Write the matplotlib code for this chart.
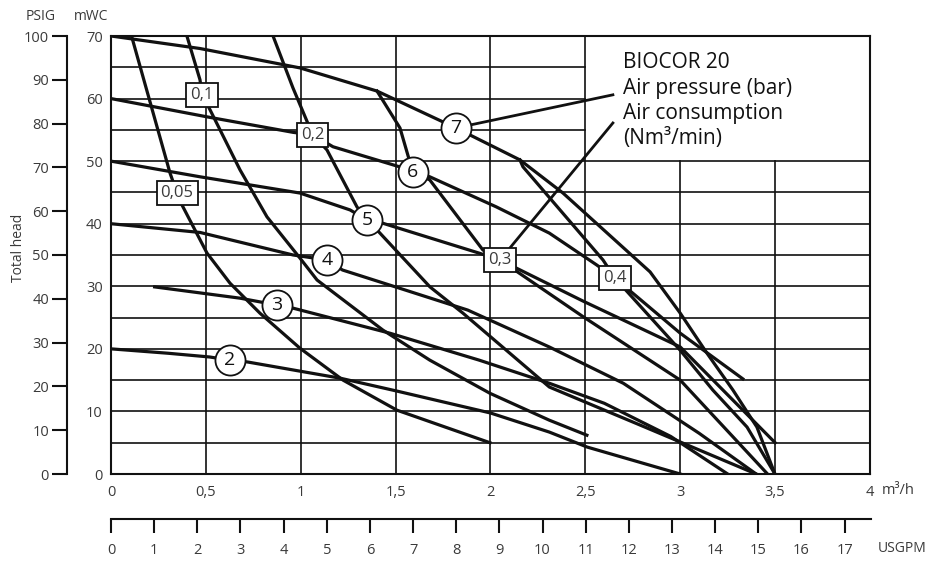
import matplotlib
matplotlib.use('Agg')
import matplotlib.pyplot as plt

plt.rcParams['font.family'] = ['Open Sans', 'DejaVu Sans']

# ---- data: flow (m3/h) vs total head (mWC) ----
# pressure curves (bar)
p2_x = [0, 0.30, 0.52, 0.627, 0.72, 1.21, 1.50, 2.00, 2.31, 2.51, 3.00]
p2_y = [20, 19.3, 18.7, 18.2, 17.9, 15.3, 13.3, 9.75, 6.7, 4.3, 0]
p3_x = [0.23, 0.68, 0.875, 0.96, 1.47, 1.94, 2.31, 2.60, 2.95, 3.25]
p3_y = [29.9, 28.1, 27.0, 26.5, 22.5, 18.2, 14.5, 11.3, 6.0, 0]
p4_x = [0, 0.47, 0.96, 1.138, 1.22, 1.52, 1.88, 2.31, 2.70, 3.10, 3.40]
p4_y = [40, 38.6, 35.0, 34.2, 32.6, 29.7, 26.2, 20.3, 14.5, 6.5, 0]
p5_x = [0, 0.469, 0.996, 1.26, 1.349, 1.43, 1.94, 2.05, 2.49, 3.00, 3.50]
p5_y = [50, 47.5, 44.9, 42.2, 40.6, 40.1, 35.3, 34.2, 27.6, 20.3, 5]
p6_x = [0, 0.52, 0.96, 1.063, 1.17, 1.52, 1.59, 1.68, 2.03, 2.31, 2.56, 2.656, 3.00, 3.33]
p6_y = [60, 57.0, 54.6, 54.2, 52.3, 49.1, 48.3, 47.5, 42.7, 38.5, 33.4, 31.3, 22.5, 15.2]
p7_x = [0, 0.469, 0.996, 1.402, 1.818, 2.155, 2.382, 2.841, 3.00, 3.141, 3.278, 3.404, 3.499]
p7_y = [70, 68.0, 64.9, 61.2, 55.3, 50.2, 44.9, 32.3, 25.7, 19.3, 13.4, 7.5, 0]

# air consumption curves (Nm3/min)
c005_x = [0.111, 0.311, 0.348, 0.374, 0.506, 0.627, 0.785, 0.996, 1.223, 1.507, 1.997]
c005_y = [69.7, 48.1, 44.9, 43.0, 35.3, 30.5, 25.7, 20.1, 15.0, 10.2, 5.0]
c01_x = [0.40, 0.469, 0.48, 0.522, 0.68, 0.822, 0.996, 1.086, 1.433, 1.68, 1.997, 2.31, 2.508]
c01_y = [70, 63.0, 60.6, 58.2, 48.6, 41.1, 34.5, 31.0, 23.0, 18.2, 12.9, 8.6, 6.2]
c02_x = [0.854, 0.959, 1.063, 1.138, 1.296, 1.349, 1.402, 1.681, 1.855, 2.31, 2.79, 3.40]
c02_y = [70, 61.7, 54.2, 51.8, 42.7, 40.6, 39.0, 29.9, 25.7, 13.9, 7.8, 0]
c03_x = [1.402, 1.523, 1.59, 1.68, 1.96, 2.05, 2.49, 3.00, 3.46]
c03_y = [61.2, 55.3, 48.3, 47.0, 35.8, 34.2, 25.1, 15.0, 0]
c04_x = [2.155, 2.171, 2.593, 2.656, 2.999, 3.172, 3.352, 3.499]
c04_y = [50.2, 49.1, 34.2, 31.3, 19.8, 13.4, 7.5, 0]

pressure_curves = [(p2_x, p2_y), (p3_x, p3_y), (p4_x, p4_y),
                   (p5_x, p5_y), (p6_x, p6_y), (p7_x, p7_y)]
consumption_curves = [(c005_x, c005_y), (c01_x, c01_y), (c02_x, c02_y),
                      (c03_x, c03_y), (c04_x, c04_y)]

circle_labels = ['2', '3', '4', '5', '6', '7']
circle_x = [0.627, 0.875, 1.138, 1.349, 1.59, 1.818]
circle_y = [18.2, 27.0, 34.2, 40.6, 48.3, 55.3]

box_labels = ['0,05', '0,1', '0,2', '0,3', '0,4']
box_x = [0.348, 0.48, 1.063, 2.05, 2.656]
box_y = [44.9, 60.6, 54.2, 34.2, 31.3]

x_ticks = [0, 0.5, 1, 1.5, 2, 2.5, 3, 3.5, 4]
x_tick_labels = ['0', '0,5', '1', '1,5', '2', '2,5', '3', '3,5', '4']
y_ticks = [0, 10, 20, 30, 40, 50, 60, 70]
psig_ticks = list(range(0, 101, 10))
usgpm_ticks = list(range(0, 18))
usgpm_per_m3h = 4.403

legend_lines = ['BIOCOR 20', 'Air pressure (bar)', 'Air consumption', '(Nm³/min)']
legend_y = [64.9, 60.8, 56.8, 52.7]

# ---- figure ----
W, H = 929, 561
fig = plt.figure(figsize=(W / 100, H / 100), dpi=100)
L, R, T, B = 111, 870, 36, 474
ax = fig.add_axes([L / W, 1 - B / H, (R - L) / W, (B - T) / H])
ax.set_xlim(0, 4)
ax.set_ylim(0, 70)
ink = '#111111'
txt = '#3a3a3a'

# grid (leave the legend panel empty)
for yv in range(5, 70, 5):
    ax.plot([0, 2.5 if yv > 50 else 4], [yv, yv], color=ink, lw=1.2, zorder=1)
for xv in [0.5, 1, 1.5, 2, 2.5, 3, 3.5]:
    ax.plot([xv, xv], [0, 50 if xv > 2.5 else 70], color=ink, lw=1.2, zorder=1)
for s in ax.spines.values():
    s.set_linewidth(1.5)
    s.set_color(ink)

for cx, cy in pressure_curves + consumption_curves:
    ax.plot(cx, cy, color=ink, lw=2.3, solid_joinstyle='round', zorder=3)

# leader lines to legend text
ax.plot([circle_x[5], 2.645], [circle_y[5], 60.6], color=ink, lw=2.0, zorder=3)
ax.plot([box_x[3], 2.645], [box_y[3], 56.1], color=ink, lw=2.0, zorder=3)

ax.scatter(circle_x, circle_y, s=470, facecolor='white', edgecolor=ink,
           linewidth=1.3, zorder=5)
for lab, cx, cy in zip(circle_labels, circle_x, circle_y):
    ax.text(cx, cy, lab, ha='center', va='center', fontsize=14, color=ink, zorder=6)
for lab, bx, by in zip(box_labels, box_x, box_y):
    ax.text(bx, by, lab, ha='center', va='center', fontsize=12, color=txt, zorder=6,
            bbox=dict(boxstyle='square,pad=0.24', fc='white', ec=ink, lw=1.3))

for line, ly in zip(legend_lines, legend_y):
    ax.text(2.7, ly, line, ha='left', va='baseline', fontsize=15,
            color=ink, zorder=6)

ax.set_xticks(x_ticks)
ax.set_xticklabels(x_tick_labels)
ax.set_yticks(y_ticks)
ax.tick_params(axis='both', length=0, labelsize=10.5, labelcolor=txt)
ax.tick_params(axis='x', pad=8)
ax.tick_params(axis='y', pad=6)
fig.text(882 / W, 1 - 490 / H, 'm³/h', ha='left', va='center', fontsize=10.5, color=txt)

# PSIG axis
axp = fig.add_axes([67 / W, 1 - B / H, 0.0001, (B - T) / H])
axp.set_ylim(0, 100)
axp.set_yticks(psig_ticks)
for k in ['top', 'right', 'bottom']:
    axp.spines[k].set_visible(False)
axp.spines['left'].set_linewidth(1.5)
axp.spines['left'].set_color(ink)
axp.set_xticks([])
axp.tick_params(axis='y', length=11, width=1.5, color=ink, pad=2,
                labelsize=10.5, labelcolor=txt)
axp.patch.set_alpha(0)

fig.text(41 / W, 1 - 16 / H, 'PSIG', ha='center', va='center', fontsize=10, color=txt)
fig.text(91 / W, 1 - 16 / H, 'mWC', ha='center', va='center', fontsize=10, color=txt)
fig.text(19 / W, 1 - 248 / H, 'Total head', ha='center', va='center', rotation=90,
         fontsize=10, color=txt)

# USGPM axis
axu = fig.add_axes([L / W, 1 - 519 / H, (871 - L) / W, 0.0001])
axu.set_xlim(0, 4 * usgpm_per_m3h)
axu.set_xticks(usgpm_ticks)
axu.set_yticks([])
for k in ['top', 'right', 'left']:
    axu.spines[k].set_visible(False)
axu.spines['bottom'].set_linewidth(1.5)
axu.spines['bottom'].set_color(ink)
axu.tick_params(axis='x', direction='out', length=10, width=1.5, color=ink, pad=7,
                labelsize=10.5, labelcolor=txt)
axu.patch.set_alpha(0)
fig.text(878 / W, 1 - 548 / H, 'USGPM', ha='left', va='center', fontsize=10, color=txt)

fig.savefig('out.png', dpi=100, facecolor='white')
